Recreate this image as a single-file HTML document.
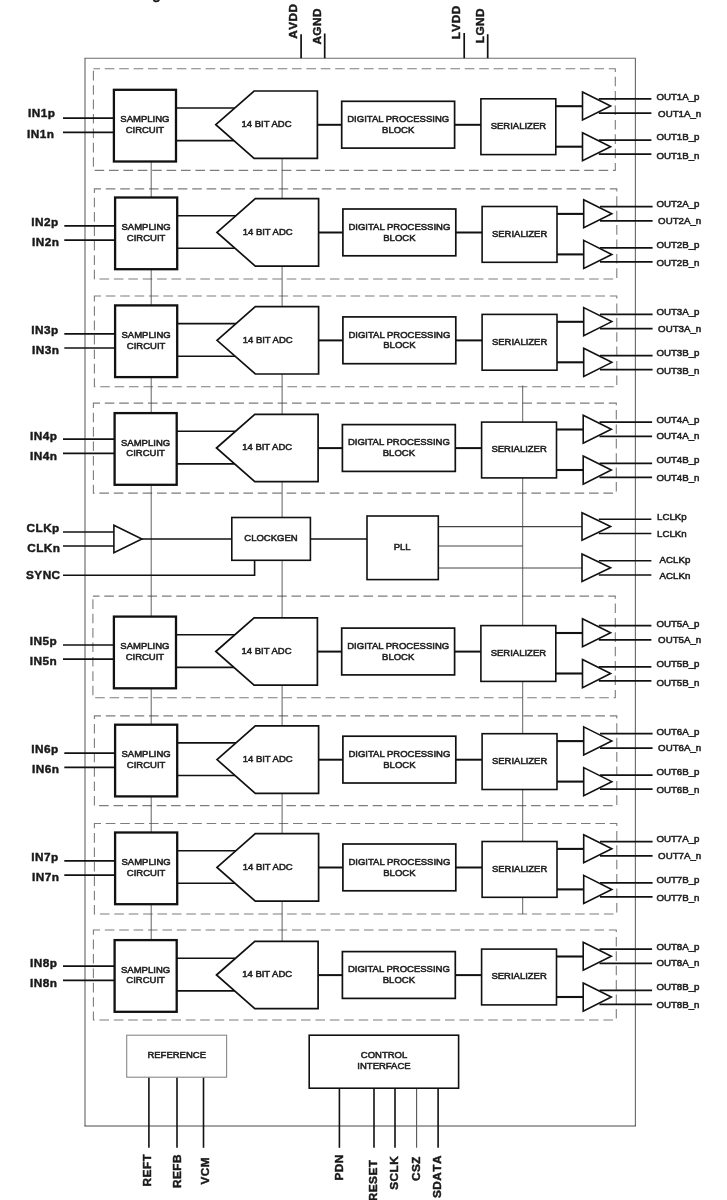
<!DOCTYPE html>
<html lang="en"><head><meta charset="utf-8"><title>Block diagram</title>
<style>
html,body{margin:0;padding:0;background:#fff;}
body{width:727px;height:1200px;overflow:hidden;}
svg{display:block;filter:blur(0.45px);}
text{font-family:"Liberation Sans",Arial,Helvetica,sans-serif;}
.t{font-size:9.5px;fill:#222;stroke:#222;stroke-width:0.55px;}
.o{font-size:9.7px;fill:#222;stroke:#222;stroke-width:0.55px;}
.b{font-size:11.8px;letter-spacing:0.45px;font-kerning:none;font-weight:bold;fill:#1a1a1a;stroke:#1a1a1a;stroke-width:0.45px;}
</style></head>
<body>
<svg width="727" height="1200" viewBox="0 0 727 1200">
<rect x="0" y="0" width="727" height="1200" fill="#fff"/>
<line x1="84.4" y1="58.2" x2="636" y2="58.2" stroke="#6c6c6c" stroke-width="1.15"/>
<line x1="85" y1="58.2" x2="85" y2="1126" stroke="#6c6c6c" stroke-width="1.15"/>
<line x1="635.4" y1="58.2" x2="635.4" y2="1126" stroke="#6c6c6c" stroke-width="1.15"/>
<line x1="84.4" y1="1126" x2="636" y2="1126" stroke="#484848" stroke-width="1.0"/>
<rect x="93.4" y="68.8" width="521.9" height="101.6" fill="none" stroke="#7c7c7c" stroke-width="1.1" stroke-dasharray="9.6 4.8" stroke-dashoffset="3"/>
<rect x="94.4" y="188.9" width="522.4" height="90.1" fill="none" stroke="#7c7c7c" stroke-width="1.1" stroke-dasharray="9.6 4.8" stroke-dashoffset="3"/>
<rect x="94.4" y="296" width="522.4" height="90.8" fill="none" stroke="#7c7c7c" stroke-width="1.1" stroke-dasharray="9.6 4.8" stroke-dashoffset="3"/>
<rect x="93.4" y="403.1" width="522.9" height="90" fill="none" stroke="#7c7c7c" stroke-width="1.1" stroke-dasharray="9.6 4.8" stroke-dashoffset="3"/>
<rect x="92.9" y="596.1" width="522.4" height="101.7" fill="none" stroke="#7c7c7c" stroke-width="1.1" stroke-dasharray="9.6 4.8" stroke-dashoffset="3"/>
<rect x="94.4" y="715.9" width="522.4" height="89.7" fill="none" stroke="#7c7c7c" stroke-width="1.1" stroke-dasharray="9.6 4.8" stroke-dashoffset="3"/>
<rect x="94.4" y="823.5" width="522.4" height="90.5" fill="none" stroke="#7c7c7c" stroke-width="1.1" stroke-dasharray="9.6 4.8" stroke-dashoffset="3"/>
<rect x="93.4" y="930" width="522.9" height="90" fill="none" stroke="#7c7c7c" stroke-width="1.1" stroke-dasharray="9.6 4.8" stroke-dashoffset="3"/>
<line x1="151.2" y1="160.8" x2="151.2" y2="940.1" stroke="#444" stroke-width="0.85"/>
<line x1="282.1" y1="157.8" x2="282.1" y2="942.1" stroke="#444" stroke-width="0.85"/>
<line x1="522.7" y1="385.5" x2="522.7" y2="914" stroke="#444" stroke-width="0.85"/>
<line x1="438.3" y1="526.6" x2="582" y2="526.6" stroke="#444" stroke-width="1.2"/>
<line x1="438.3" y1="546" x2="522.7" y2="546" stroke="#444" stroke-width="1"/>
<line x1="438.3" y1="568" x2="582" y2="568" stroke="#444" stroke-width="1"/>
<line x1="63" y1="532" x2="113.9" y2="532" stroke="#111" stroke-width="1.6"/>
<line x1="63" y1="546" x2="113.9" y2="546" stroke="#111" stroke-width="1.6"/>
<line x1="141.9" y1="539" x2="231.8" y2="539" stroke="#111" stroke-width="1.4"/>
<line x1="310.4" y1="539" x2="367" y2="539" stroke="#111" stroke-width="1.4"/>
<polyline points="63,575.3 254.6,575.3 254.6,560.3" fill="none" stroke="#111" stroke-width="1.6"/>
<polygon points="113.9,525.2 141.9,539 113.9,552.8" fill="#fff" stroke="#111" stroke-width="1.6" stroke-linejoin="miter"/>
<rect x="231.8" y="517.5" width="78.6" height="42.8" fill="#fff" stroke="#111" stroke-width="1.6"/>
<rect x="367" y="516" width="71.3" height="63.6" fill="#fff" stroke="#111" stroke-width="1.6"/>
<text x="271" y="540.9" class="t" text-anchor="middle">CLOCKGEN</text>
<text x="402.2" y="550" class="t" text-anchor="middle">PLL</text>
<line x1="598.8" y1="519.2" x2="651.4" y2="519.2" stroke="#111" stroke-width="1.5"/>
<line x1="598.8" y1="533.5" x2="651.4" y2="533.5" stroke="#111" stroke-width="1.5"/>
<line x1="598.8" y1="560.8" x2="651.4" y2="560.8" stroke="#111" stroke-width="1.5"/>
<line x1="598.8" y1="575" x2="651.4" y2="575" stroke="#111" stroke-width="1.5"/>
<polygon points="582,512.7 610.6,526.45 582,540.2" fill="#fff" stroke="#111" stroke-width="1.6" stroke-linejoin="miter"/>
<polygon points="582,554 610.6,567.75 582,581.5" fill="#fff" stroke="#111" stroke-width="1.6" stroke-linejoin="miter"/>
<text x="657.1" y="519.9" class="o" text-anchor="start">LCLKp</text>
<text x="657.1" y="537.4" class="o" text-anchor="start">LCLKn</text>
<text x="659.6" y="563.2" class="o" text-anchor="start">ACLKp</text>
<text x="659.6" y="579.4" class="o" text-anchor="start">ACLKn</text>
<text x="26.5" y="532.3" class="b" text-anchor="start">CLKp</text>
<text x="27.2" y="552.4" class="b" text-anchor="start">CLKn</text>
<text x="26" y="578.6" class="b" text-anchor="start">SYNC</text>
<line x1="63" y1="118.2" x2="113.9" y2="118.2" stroke="#111" stroke-width="1.7"/>
<line x1="63" y1="132.4" x2="113.9" y2="132.4" stroke="#111" stroke-width="1.7"/>
<line x1="175.9" y1="108" x2="234.9" y2="108" stroke="#111" stroke-width="1.6"/>
<line x1="175.9" y1="140.6" x2="234.9" y2="140.6" stroke="#111" stroke-width="1.6"/>
<line x1="317.4" y1="124.8" x2="341.7" y2="124.8" stroke="#111" stroke-width="2"/>
<line x1="454.6" y1="124.8" x2="480.9" y2="124.8" stroke="#111" stroke-width="2"/>
<line x1="555.8" y1="106.2" x2="582.5" y2="106.2" stroke="#111" stroke-width="2.1"/>
<line x1="555.8" y1="146.7" x2="582.5" y2="146.7" stroke="#111" stroke-width="2.1"/>
<line x1="598.8" y1="98.8" x2="651.4" y2="98.8" stroke="#111" stroke-width="1.75"/>
<line x1="598.8" y1="113.1" x2="651.4" y2="113.1" stroke="#111" stroke-width="1.75"/>
<line x1="598.8" y1="140.1" x2="651.4" y2="140.1" stroke="#111" stroke-width="1.75"/>
<line x1="598.8" y1="154.1" x2="651.4" y2="154.1" stroke="#111" stroke-width="1.75"/>
<rect x="113.9" y="89.8" width="62.1" height="71.7" fill="#fff" stroke="#111" stroke-width="2.3"/>
<polygon points="215.8,124.7 254.1,91 317.4,91 317.4,158.4 254.1,158.4" fill="#fff" stroke="#111" stroke-width="1.7" stroke-linejoin="miter"/>
<rect x="341.7" y="101.3" width="112.9" height="46.8" fill="#fff" stroke="#111" stroke-width="1.7"/>
<rect x="480.9" y="98.8" width="74.9" height="55.8" fill="#fff" stroke="#111" stroke-width="1.6"/>
<polygon points="582.5,92 610.6,106 582.5,120" fill="#fff" stroke="#111" stroke-width="1.6" stroke-linejoin="miter"/>
<polygon points="582.5,132.7 610.6,146.75 582.5,160.8" fill="#fff" stroke="#111" stroke-width="1.6" stroke-linejoin="miter"/>
<text x="144.9" y="122.2" class="t" text-anchor="middle">SAMPLING</text>
<text x="144.9" y="133" class="t" text-anchor="middle">CIRCUIT</text>
<text x="266.5" y="127.1" class="t" text-anchor="middle">14 BIT ADC</text>
<text x="398.2" y="121.9" class="t" text-anchor="middle">DIGITAL PROCESSING</text>
<text x="398.2" y="132.8" class="t" text-anchor="middle">BLOCK</text>
<text x="518.4" y="129.1" class="t" text-anchor="middle">SERIALIZER</text>
<text x="656.4" y="100.3" class="o" text-anchor="start">OUT1A_p</text>
<text x="658.1" y="116.6" class="o" text-anchor="start">OUT1A_n</text>
<text x="656.4" y="139.8" class="o" text-anchor="start">OUT1B_p</text>
<text x="656.4" y="158.7" class="o" text-anchor="start">OUT1B_n</text>
<text x="28" y="117.2" class="b" text-anchor="start">IN1p</text>
<text x="27" y="137.9" class="b" text-anchor="start">IN1n</text>
<line x1="64.3" y1="225.9" x2="115.1" y2="225.9" stroke="#111" stroke-width="1.7"/>
<line x1="64.3" y1="240.1" x2="115.1" y2="240.1" stroke="#111" stroke-width="1.7"/>
<line x1="177.1" y1="215.7" x2="236.1" y2="215.7" stroke="#111" stroke-width="1.6"/>
<line x1="177.1" y1="248.3" x2="236.1" y2="248.3" stroke="#111" stroke-width="1.6"/>
<line x1="318.6" y1="232.5" x2="342.9" y2="232.5" stroke="#111" stroke-width="2"/>
<line x1="455.8" y1="232.5" x2="482.1" y2="232.5" stroke="#111" stroke-width="2"/>
<line x1="557" y1="213.9" x2="583.7" y2="213.9" stroke="#111" stroke-width="2.1"/>
<line x1="557" y1="254.4" x2="583.7" y2="254.4" stroke="#111" stroke-width="2.1"/>
<line x1="600" y1="206.5" x2="652.6" y2="206.5" stroke="#111" stroke-width="1.75"/>
<line x1="600" y1="220.8" x2="652.6" y2="220.8" stroke="#111" stroke-width="1.75"/>
<line x1="600" y1="247.8" x2="652.6" y2="247.8" stroke="#111" stroke-width="1.75"/>
<line x1="600" y1="261.8" x2="652.6" y2="261.8" stroke="#111" stroke-width="1.75"/>
<rect x="115.1" y="197.5" width="62.1" height="71.7" fill="#fff" stroke="#111" stroke-width="2.3"/>
<polygon points="217,232.4 255.3,198.7 318.6,198.7 318.6,266.1 255.3,266.1" fill="#fff" stroke="#111" stroke-width="1.7" stroke-linejoin="miter"/>
<rect x="342.9" y="209" width="112.9" height="46.8" fill="#fff" stroke="#111" stroke-width="1.7"/>
<rect x="482.1" y="206.5" width="74.9" height="55.8" fill="#fff" stroke="#111" stroke-width="1.6"/>
<polygon points="583.7,199.7 611.8,213.7 583.7,227.7" fill="#fff" stroke="#111" stroke-width="1.6" stroke-linejoin="miter"/>
<polygon points="583.7,240.4 611.8,254.45 583.7,268.5" fill="#fff" stroke="#111" stroke-width="1.6" stroke-linejoin="miter"/>
<text x="146.1" y="229.9" class="t" text-anchor="middle">SAMPLING</text>
<text x="146.1" y="240.7" class="t" text-anchor="middle">CIRCUIT</text>
<text x="267.7" y="234.8" class="t" text-anchor="middle">14 BIT ADC</text>
<text x="399.4" y="229.6" class="t" text-anchor="middle">DIGITAL PROCESSING</text>
<text x="399.4" y="240.5" class="t" text-anchor="middle">BLOCK</text>
<text x="519.6" y="236.8" class="t" text-anchor="middle">SERIALIZER</text>
<text x="656.4" y="207.4" class="o" text-anchor="start">OUT2A_p</text>
<text x="658.1" y="223.7" class="o" text-anchor="start">OUT2A_n</text>
<text x="656.4" y="247.7" class="o" text-anchor="start">OUT2B_p</text>
<text x="656.4" y="265.8" class="o" text-anchor="start">OUT2B_n</text>
<text x="31.3" y="226" class="b" text-anchor="start">IN2p</text>
<text x="32" y="246" class="b" text-anchor="start">IN2n</text>
<line x1="64.3" y1="333.8" x2="115.1" y2="333.8" stroke="#111" stroke-width="1.7"/>
<line x1="64.3" y1="348" x2="115.1" y2="348" stroke="#111" stroke-width="1.7"/>
<line x1="177.1" y1="323.6" x2="236.1" y2="323.6" stroke="#111" stroke-width="1.6"/>
<line x1="177.1" y1="356.2" x2="236.1" y2="356.2" stroke="#111" stroke-width="1.6"/>
<line x1="318.6" y1="340.4" x2="342.9" y2="340.4" stroke="#111" stroke-width="2"/>
<line x1="455.8" y1="340.4" x2="482.1" y2="340.4" stroke="#111" stroke-width="2"/>
<line x1="557" y1="321.8" x2="583.7" y2="321.8" stroke="#111" stroke-width="2.1"/>
<line x1="557" y1="362.3" x2="583.7" y2="362.3" stroke="#111" stroke-width="2.1"/>
<line x1="600" y1="314.4" x2="652.6" y2="314.4" stroke="#111" stroke-width="1.75"/>
<line x1="600" y1="328.7" x2="652.6" y2="328.7" stroke="#111" stroke-width="1.75"/>
<line x1="600" y1="355.7" x2="652.6" y2="355.7" stroke="#111" stroke-width="1.75"/>
<line x1="600" y1="369.7" x2="652.6" y2="369.7" stroke="#111" stroke-width="1.75"/>
<rect x="115.1" y="305.4" width="62.1" height="71.7" fill="#fff" stroke="#111" stroke-width="2.3"/>
<polygon points="217,340.3 255.3,306.6 318.6,306.6 318.6,374 255.3,374" fill="#fff" stroke="#111" stroke-width="1.7" stroke-linejoin="miter"/>
<rect x="342.9" y="316.9" width="112.9" height="46.8" fill="#fff" stroke="#111" stroke-width="1.7"/>
<rect x="482.1" y="314.4" width="74.9" height="55.8" fill="#fff" stroke="#111" stroke-width="1.6"/>
<polygon points="583.7,307.6 611.8,321.6 583.7,335.6" fill="#fff" stroke="#111" stroke-width="1.6" stroke-linejoin="miter"/>
<polygon points="583.7,348.3 611.8,362.35 583.7,376.4" fill="#fff" stroke="#111" stroke-width="1.6" stroke-linejoin="miter"/>
<text x="146.1" y="337.8" class="t" text-anchor="middle">SAMPLING</text>
<text x="146.1" y="348.6" class="t" text-anchor="middle">CIRCUIT</text>
<text x="267.7" y="342.7" class="t" text-anchor="middle">14 BIT ADC</text>
<text x="399.4" y="337.5" class="t" text-anchor="middle">DIGITAL PROCESSING</text>
<text x="399.4" y="348.4" class="t" text-anchor="middle">BLOCK</text>
<text x="519.6" y="344.7" class="t" text-anchor="middle">SERIALIZER</text>
<text x="656.4" y="315.3" class="o" text-anchor="start">OUT3A_p</text>
<text x="658.1" y="331.6" class="o" text-anchor="start">OUT3A_n</text>
<text x="656.4" y="355.6" class="o" text-anchor="start">OUT3B_p</text>
<text x="656.4" y="373.7" class="o" text-anchor="start">OUT3B_n</text>
<text x="31.3" y="333.9" class="b" text-anchor="start">IN3p</text>
<text x="32" y="353.9" class="b" text-anchor="start">IN3n</text>
<line x1="63" y1="439.1" x2="114.6" y2="439.1" stroke="#111" stroke-width="1.7"/>
<line x1="63" y1="453.3" x2="114.6" y2="453.3" stroke="#111" stroke-width="1.7"/>
<line x1="176.6" y1="431.3" x2="235.6" y2="431.3" stroke="#111" stroke-width="1.6"/>
<line x1="176.6" y1="463.9" x2="235.6" y2="463.9" stroke="#111" stroke-width="1.6"/>
<line x1="318.1" y1="448.1" x2="342.4" y2="448.1" stroke="#111" stroke-width="2"/>
<line x1="455.3" y1="448.1" x2="481.6" y2="448.1" stroke="#111" stroke-width="2"/>
<line x1="556.5" y1="429.5" x2="583.2" y2="429.5" stroke="#111" stroke-width="2.1"/>
<line x1="556.5" y1="470" x2="583.2" y2="470" stroke="#111" stroke-width="2.1"/>
<line x1="599.5" y1="422.1" x2="652.1" y2="422.1" stroke="#111" stroke-width="1.75"/>
<line x1="599.5" y1="436.4" x2="652.1" y2="436.4" stroke="#111" stroke-width="1.75"/>
<line x1="599.5" y1="463.4" x2="652.1" y2="463.4" stroke="#111" stroke-width="1.75"/>
<line x1="599.5" y1="477.4" x2="652.1" y2="477.4" stroke="#111" stroke-width="1.75"/>
<rect x="114.6" y="413.1" width="62.1" height="71.7" fill="#fff" stroke="#111" stroke-width="2.3"/>
<polygon points="216.5,448 254.8,414.3 318.1,414.3 318.1,481.7 254.8,481.7" fill="#fff" stroke="#111" stroke-width="1.7" stroke-linejoin="miter"/>
<rect x="342.4" y="424.6" width="112.9" height="46.8" fill="#fff" stroke="#111" stroke-width="1.7"/>
<rect x="481.6" y="422.1" width="74.9" height="55.8" fill="#fff" stroke="#111" stroke-width="1.6"/>
<polygon points="583.2,415.3 611.3,429.3 583.2,443.3" fill="#fff" stroke="#111" stroke-width="1.6" stroke-linejoin="miter"/>
<polygon points="583.2,456 611.3,470.05 583.2,484.1" fill="#fff" stroke="#111" stroke-width="1.6" stroke-linejoin="miter"/>
<text x="145.6" y="445.5" class="t" text-anchor="middle">SAMPLING</text>
<text x="145.6" y="456.3" class="t" text-anchor="middle">CIRCUIT</text>
<text x="267.2" y="450.4" class="t" text-anchor="middle">14 BIT ADC</text>
<text x="398.9" y="445.2" class="t" text-anchor="middle">DIGITAL PROCESSING</text>
<text x="398.9" y="456.1" class="t" text-anchor="middle">BLOCK</text>
<text x="519.1" y="452.4" class="t" text-anchor="middle">SERIALIZER</text>
<text x="656.4" y="423" class="o" text-anchor="start">OUT4A_p</text>
<text x="656.4" y="439.3" class="o" text-anchor="start">OUT4A_n</text>
<text x="656.4" y="463.3" class="o" text-anchor="start">OUT4B_p</text>
<text x="656.4" y="481.4" class="o" text-anchor="start">OUT4B_n</text>
<text x="30" y="440.1" class="b" text-anchor="start">IN4p</text>
<text x="30" y="459.6" class="b" text-anchor="start">IN4n</text>
<line x1="63" y1="645" x2="113.9" y2="645" stroke="#111" stroke-width="1.7"/>
<line x1="63" y1="659.2" x2="113.9" y2="659.2" stroke="#111" stroke-width="1.7"/>
<line x1="175.9" y1="634.8" x2="234.9" y2="634.8" stroke="#111" stroke-width="1.6"/>
<line x1="175.9" y1="667.4" x2="234.9" y2="667.4" stroke="#111" stroke-width="1.6"/>
<line x1="317.4" y1="651.6" x2="341.7" y2="651.6" stroke="#111" stroke-width="2"/>
<line x1="454.6" y1="651.6" x2="480.9" y2="651.6" stroke="#111" stroke-width="2"/>
<line x1="555.8" y1="633" x2="582.5" y2="633" stroke="#111" stroke-width="2.1"/>
<line x1="555.8" y1="673.5" x2="582.5" y2="673.5" stroke="#111" stroke-width="2.1"/>
<line x1="598.8" y1="625.6" x2="651.4" y2="625.6" stroke="#111" stroke-width="1.75"/>
<line x1="598.8" y1="639.9" x2="651.4" y2="639.9" stroke="#111" stroke-width="1.75"/>
<line x1="598.8" y1="666.9" x2="651.4" y2="666.9" stroke="#111" stroke-width="1.75"/>
<line x1="598.8" y1="680.9" x2="651.4" y2="680.9" stroke="#111" stroke-width="1.75"/>
<rect x="113.9" y="616.6" width="62.1" height="71.7" fill="#fff" stroke="#111" stroke-width="2.3"/>
<polygon points="215.8,651.5 254.1,617.8 317.4,617.8 317.4,685.2 254.1,685.2" fill="#fff" stroke="#111" stroke-width="1.7" stroke-linejoin="miter"/>
<rect x="341.7" y="628.1" width="112.9" height="46.8" fill="#fff" stroke="#111" stroke-width="1.7"/>
<rect x="480.9" y="625.6" width="74.9" height="55.8" fill="#fff" stroke="#111" stroke-width="1.6"/>
<polygon points="582.5,618.8 610.6,632.8 582.5,646.8" fill="#fff" stroke="#111" stroke-width="1.6" stroke-linejoin="miter"/>
<polygon points="582.5,659.5 610.6,673.55 582.5,687.6" fill="#fff" stroke="#111" stroke-width="1.6" stroke-linejoin="miter"/>
<text x="144.9" y="649" class="t" text-anchor="middle">SAMPLING</text>
<text x="144.9" y="659.8" class="t" text-anchor="middle">CIRCUIT</text>
<text x="266.5" y="653.9" class="t" text-anchor="middle">14 BIT ADC</text>
<text x="398.2" y="648.7" class="t" text-anchor="middle">DIGITAL PROCESSING</text>
<text x="398.2" y="659.6" class="t" text-anchor="middle">BLOCK</text>
<text x="518.4" y="655.9" class="t" text-anchor="middle">SERIALIZER</text>
<text x="656.4" y="627.1" class="o" text-anchor="start">OUT5A_p</text>
<text x="658.1" y="643.4" class="o" text-anchor="start">OUT5A_n</text>
<text x="656.4" y="666.6" class="o" text-anchor="start">OUT5B_p</text>
<text x="656.4" y="685.5" class="o" text-anchor="start">OUT5B_n</text>
<text x="29.8" y="645.1" class="b" text-anchor="start">IN5p</text>
<text x="29.8" y="665.1" class="b" text-anchor="start">IN5n</text>
<line x1="64.3" y1="753.1" x2="115.1" y2="753.1" stroke="#111" stroke-width="1.7"/>
<line x1="64.3" y1="767.3" x2="115.1" y2="767.3" stroke="#111" stroke-width="1.7"/>
<line x1="177.1" y1="742.9" x2="236.1" y2="742.9" stroke="#111" stroke-width="1.6"/>
<line x1="177.1" y1="775.5" x2="236.1" y2="775.5" stroke="#111" stroke-width="1.6"/>
<line x1="318.6" y1="759.7" x2="342.9" y2="759.7" stroke="#111" stroke-width="2"/>
<line x1="455.8" y1="759.7" x2="482.1" y2="759.7" stroke="#111" stroke-width="2"/>
<line x1="557" y1="741.1" x2="583.7" y2="741.1" stroke="#111" stroke-width="2.1"/>
<line x1="557" y1="781.6" x2="583.7" y2="781.6" stroke="#111" stroke-width="2.1"/>
<line x1="600" y1="733.7" x2="652.6" y2="733.7" stroke="#111" stroke-width="1.75"/>
<line x1="600" y1="748" x2="652.6" y2="748" stroke="#111" stroke-width="1.75"/>
<line x1="600" y1="775" x2="652.6" y2="775" stroke="#111" stroke-width="1.75"/>
<line x1="600" y1="789" x2="652.6" y2="789" stroke="#111" stroke-width="1.75"/>
<rect x="115.1" y="724.7" width="62.1" height="71.7" fill="#fff" stroke="#111" stroke-width="2.3"/>
<polygon points="217,759.6 255.3,725.9 318.6,725.9 318.6,793.3 255.3,793.3" fill="#fff" stroke="#111" stroke-width="1.7" stroke-linejoin="miter"/>
<rect x="342.9" y="736.2" width="112.9" height="46.8" fill="#fff" stroke="#111" stroke-width="1.7"/>
<rect x="482.1" y="733.7" width="74.9" height="55.8" fill="#fff" stroke="#111" stroke-width="1.6"/>
<polygon points="583.7,726.9 611.8,740.9 583.7,754.9" fill="#fff" stroke="#111" stroke-width="1.6" stroke-linejoin="miter"/>
<polygon points="583.7,767.6 611.8,781.65 583.7,795.7" fill="#fff" stroke="#111" stroke-width="1.6" stroke-linejoin="miter"/>
<text x="146.1" y="757.1" class="t" text-anchor="middle">SAMPLING</text>
<text x="146.1" y="767.9" class="t" text-anchor="middle">CIRCUIT</text>
<text x="267.7" y="762" class="t" text-anchor="middle">14 BIT ADC</text>
<text x="399.4" y="756.8" class="t" text-anchor="middle">DIGITAL PROCESSING</text>
<text x="399.4" y="767.7" class="t" text-anchor="middle">BLOCK</text>
<text x="519.6" y="764" class="t" text-anchor="middle">SERIALIZER</text>
<text x="656.4" y="734.6" class="o" text-anchor="start">OUT6A_p</text>
<text x="658.1" y="750.9" class="o" text-anchor="start">OUT6A_n</text>
<text x="656.4" y="774.9" class="o" text-anchor="start">OUT6B_p</text>
<text x="656.4" y="793" class="o" text-anchor="start">OUT6B_n</text>
<text x="31.3" y="753.2" class="b" text-anchor="start">IN6p</text>
<text x="32" y="773.2" class="b" text-anchor="start">IN6n</text>
<line x1="64.3" y1="860.9" x2="115.1" y2="860.9" stroke="#111" stroke-width="1.7"/>
<line x1="64.3" y1="875.1" x2="115.1" y2="875.1" stroke="#111" stroke-width="1.7"/>
<line x1="177.1" y1="850.7" x2="236.1" y2="850.7" stroke="#111" stroke-width="1.6"/>
<line x1="177.1" y1="883.3" x2="236.1" y2="883.3" stroke="#111" stroke-width="1.6"/>
<line x1="318.6" y1="867.5" x2="342.9" y2="867.5" stroke="#111" stroke-width="2"/>
<line x1="455.8" y1="867.5" x2="482.1" y2="867.5" stroke="#111" stroke-width="2"/>
<line x1="557" y1="848.9" x2="583.7" y2="848.9" stroke="#111" stroke-width="2.1"/>
<line x1="557" y1="889.4" x2="583.7" y2="889.4" stroke="#111" stroke-width="2.1"/>
<line x1="600" y1="841.5" x2="652.6" y2="841.5" stroke="#111" stroke-width="1.75"/>
<line x1="600" y1="855.8" x2="652.6" y2="855.8" stroke="#111" stroke-width="1.75"/>
<line x1="600" y1="882.8" x2="652.6" y2="882.8" stroke="#111" stroke-width="1.75"/>
<line x1="600" y1="896.8" x2="652.6" y2="896.8" stroke="#111" stroke-width="1.75"/>
<rect x="115.1" y="832.5" width="62.1" height="71.7" fill="#fff" stroke="#111" stroke-width="2.3"/>
<polygon points="217,867.4 255.3,833.7 318.6,833.7 318.6,901.1 255.3,901.1" fill="#fff" stroke="#111" stroke-width="1.7" stroke-linejoin="miter"/>
<rect x="342.9" y="844" width="112.9" height="46.8" fill="#fff" stroke="#111" stroke-width="1.7"/>
<rect x="482.1" y="841.5" width="74.9" height="55.8" fill="#fff" stroke="#111" stroke-width="1.6"/>
<polygon points="583.7,834.7 611.8,848.7 583.7,862.7" fill="#fff" stroke="#111" stroke-width="1.6" stroke-linejoin="miter"/>
<polygon points="583.7,875.4 611.8,889.45 583.7,903.5" fill="#fff" stroke="#111" stroke-width="1.6" stroke-linejoin="miter"/>
<text x="146.1" y="864.9" class="t" text-anchor="middle">SAMPLING</text>
<text x="146.1" y="875.7" class="t" text-anchor="middle">CIRCUIT</text>
<text x="267.7" y="869.8" class="t" text-anchor="middle">14 BIT ADC</text>
<text x="399.4" y="864.6" class="t" text-anchor="middle">DIGITAL PROCESSING</text>
<text x="399.4" y="875.5" class="t" text-anchor="middle">BLOCK</text>
<text x="519.6" y="871.8" class="t" text-anchor="middle">SERIALIZER</text>
<text x="656.4" y="842.4" class="o" text-anchor="start">OUT7A_p</text>
<text x="658.1" y="858.7" class="o" text-anchor="start">OUT7A_n</text>
<text x="656.4" y="882.7" class="o" text-anchor="start">OUT7B_p</text>
<text x="656.4" y="900.8" class="o" text-anchor="start">OUT7B_n</text>
<text x="31.3" y="861" class="b" text-anchor="start">IN7p</text>
<text x="32" y="881" class="b" text-anchor="start">IN7n</text>
<line x1="63" y1="966.1" x2="114.6" y2="966.1" stroke="#111" stroke-width="1.7"/>
<line x1="63" y1="980.3" x2="114.6" y2="980.3" stroke="#111" stroke-width="1.7"/>
<line x1="176.6" y1="958.3" x2="235.6" y2="958.3" stroke="#111" stroke-width="1.6"/>
<line x1="176.6" y1="990.9" x2="235.6" y2="990.9" stroke="#111" stroke-width="1.6"/>
<line x1="318.1" y1="975.1" x2="342.4" y2="975.1" stroke="#111" stroke-width="2"/>
<line x1="455.3" y1="975.1" x2="481.6" y2="975.1" stroke="#111" stroke-width="2"/>
<line x1="556.5" y1="956.5" x2="583.2" y2="956.5" stroke="#111" stroke-width="2.1"/>
<line x1="556.5" y1="997" x2="583.2" y2="997" stroke="#111" stroke-width="2.1"/>
<line x1="599.5" y1="949.1" x2="652.1" y2="949.1" stroke="#111" stroke-width="1.75"/>
<line x1="599.5" y1="963.4" x2="652.1" y2="963.4" stroke="#111" stroke-width="1.75"/>
<line x1="599.5" y1="990.4" x2="652.1" y2="990.4" stroke="#111" stroke-width="1.75"/>
<line x1="599.5" y1="1004.4" x2="652.1" y2="1004.4" stroke="#111" stroke-width="1.75"/>
<rect x="114.6" y="940.1" width="62.1" height="71.7" fill="#fff" stroke="#111" stroke-width="2.3"/>
<polygon points="216.5,975 254.8,941.3 318.1,941.3 318.1,1008.7 254.8,1008.7" fill="#fff" stroke="#111" stroke-width="1.7" stroke-linejoin="miter"/>
<rect x="342.4" y="951.6" width="112.9" height="46.8" fill="#fff" stroke="#111" stroke-width="1.7"/>
<rect x="481.6" y="949.1" width="74.9" height="55.8" fill="#fff" stroke="#111" stroke-width="1.6"/>
<polygon points="583.2,942.3 611.3,956.3 583.2,970.3" fill="#fff" stroke="#111" stroke-width="1.6" stroke-linejoin="miter"/>
<polygon points="583.2,983 611.3,997.05 583.2,1011.1" fill="#fff" stroke="#111" stroke-width="1.6" stroke-linejoin="miter"/>
<text x="145.6" y="972.5" class="t" text-anchor="middle">SAMPLING</text>
<text x="145.6" y="983.3" class="t" text-anchor="middle">CIRCUIT</text>
<text x="267.2" y="977.4" class="t" text-anchor="middle">14 BIT ADC</text>
<text x="398.9" y="972.2" class="t" text-anchor="middle">DIGITAL PROCESSING</text>
<text x="398.9" y="983.1" class="t" text-anchor="middle">BLOCK</text>
<text x="519.1" y="979.4" class="t" text-anchor="middle">SERIALIZER</text>
<text x="656.4" y="950" class="o" text-anchor="start">OUT8A_p</text>
<text x="656.4" y="966.3" class="o" text-anchor="start">OUT8A_n</text>
<text x="656.4" y="990.3" class="o" text-anchor="start">OUT8B_p</text>
<text x="656.4" y="1008.4" class="o" text-anchor="start">OUT8B_n</text>
<text x="30" y="967.1" class="b" text-anchor="start">IN8p</text>
<text x="30" y="986.6" class="b" text-anchor="start">IN8n</text>
<line x1="148.9" y1="1077.2" x2="148.9" y2="1147.8" stroke="#111" stroke-width="1.6"/>
<line x1="177" y1="1077.2" x2="177" y2="1147.8" stroke="#111" stroke-width="1.6"/>
<line x1="203.5" y1="1077.2" x2="203.5" y2="1147.8" stroke="#111" stroke-width="1.6"/>
<line x1="339.4" y1="1088.2" x2="339.4" y2="1147.8" stroke="#111" stroke-width="1.6"/>
<line x1="374" y1="1088.2" x2="374" y2="1147.8" stroke="#111" stroke-width="1.6"/>
<line x1="395" y1="1088.2" x2="395" y2="1147.8" stroke="#111" stroke-width="1.6"/>
<line x1="416.6" y1="1088.2" x2="416.6" y2="1147.8" stroke="#555" stroke-width="1.1"/>
<line x1="438.1" y1="1088.2" x2="438.1" y2="1147.8" stroke="#111" stroke-width="1.6"/>
<rect x="126.7" y="1035.2" width="99.9" height="42" fill="#fff" stroke="#888" stroke-width="1.1"/>
<rect x="309.2" y="1035.2" width="149.4" height="53" fill="#fff" stroke="#111" stroke-width="1.6"/>
<text x="176.7" y="1058.3" class="t" text-anchor="middle">REFERENCE</text>
<text x="384" y="1058.3" class="t" text-anchor="middle">CONTROL</text>
<text x="384" y="1069.4" class="t" text-anchor="middle">INTERFACE</text>
<text x="150.6" y="1186.4" class="b" text-anchor="start" transform="rotate(-90 150.6 1186.4)">REFT</text>
<text x="180.6" y="1188" class="b" text-anchor="start" transform="rotate(-90 180.6 1188)">REFB</text>
<text x="209.5" y="1184.6" class="b" text-anchor="start" transform="rotate(-90 209.5 1184.6)">VCM</text>
<text x="343.3" y="1180.6" class="b" text-anchor="start" transform="rotate(-90 343.3 1180.6)">PDN</text>
<text x="377.3" y="1201.2" class="b" text-anchor="start" transform="rotate(-90 377.3 1201.2)">RESET</text>
<text x="397.9" y="1189.7" class="b" text-anchor="start" transform="rotate(-90 397.9 1189.7)">SCLK</text>
<text x="419.9" y="1181" class="b" text-anchor="start" transform="rotate(-90 419.9 1181)">CSZ</text>
<text x="441" y="1198" class="b" text-anchor="start" transform="rotate(-90 441 1198)">SDATA</text>
<text x="152.2" y="-1.3" class="b" style="font-size:14px">g</text>
<line x1="301.1" y1="34.2" x2="301.1" y2="58.2" stroke="#111" stroke-width="1.7"/>
<line x1="324.7" y1="33.5" x2="324.7" y2="58.2" stroke="#111" stroke-width="1.7"/>
<line x1="464.2" y1="33" x2="464.2" y2="58.2" stroke="#111" stroke-width="1.7"/>
<line x1="487.7" y1="34.2" x2="487.7" y2="58.2" stroke="#111" stroke-width="1.7"/>
<text x="297.2" y="38.8" class="b" text-anchor="start" transform="rotate(-90 297.2 38.8)">AVDD</text>
<text x="321" y="44.6" class="b" text-anchor="start" transform="rotate(-90 321 44.6)">AGND</text>
<text x="460" y="39.3" class="b" text-anchor="start" transform="rotate(-90 460 39.3)">LVDD</text>
<text x="484.3" y="43.2" class="b" text-anchor="start" transform="rotate(-90 484.3 43.2)">LGND</text>
</svg>
</body></html>
